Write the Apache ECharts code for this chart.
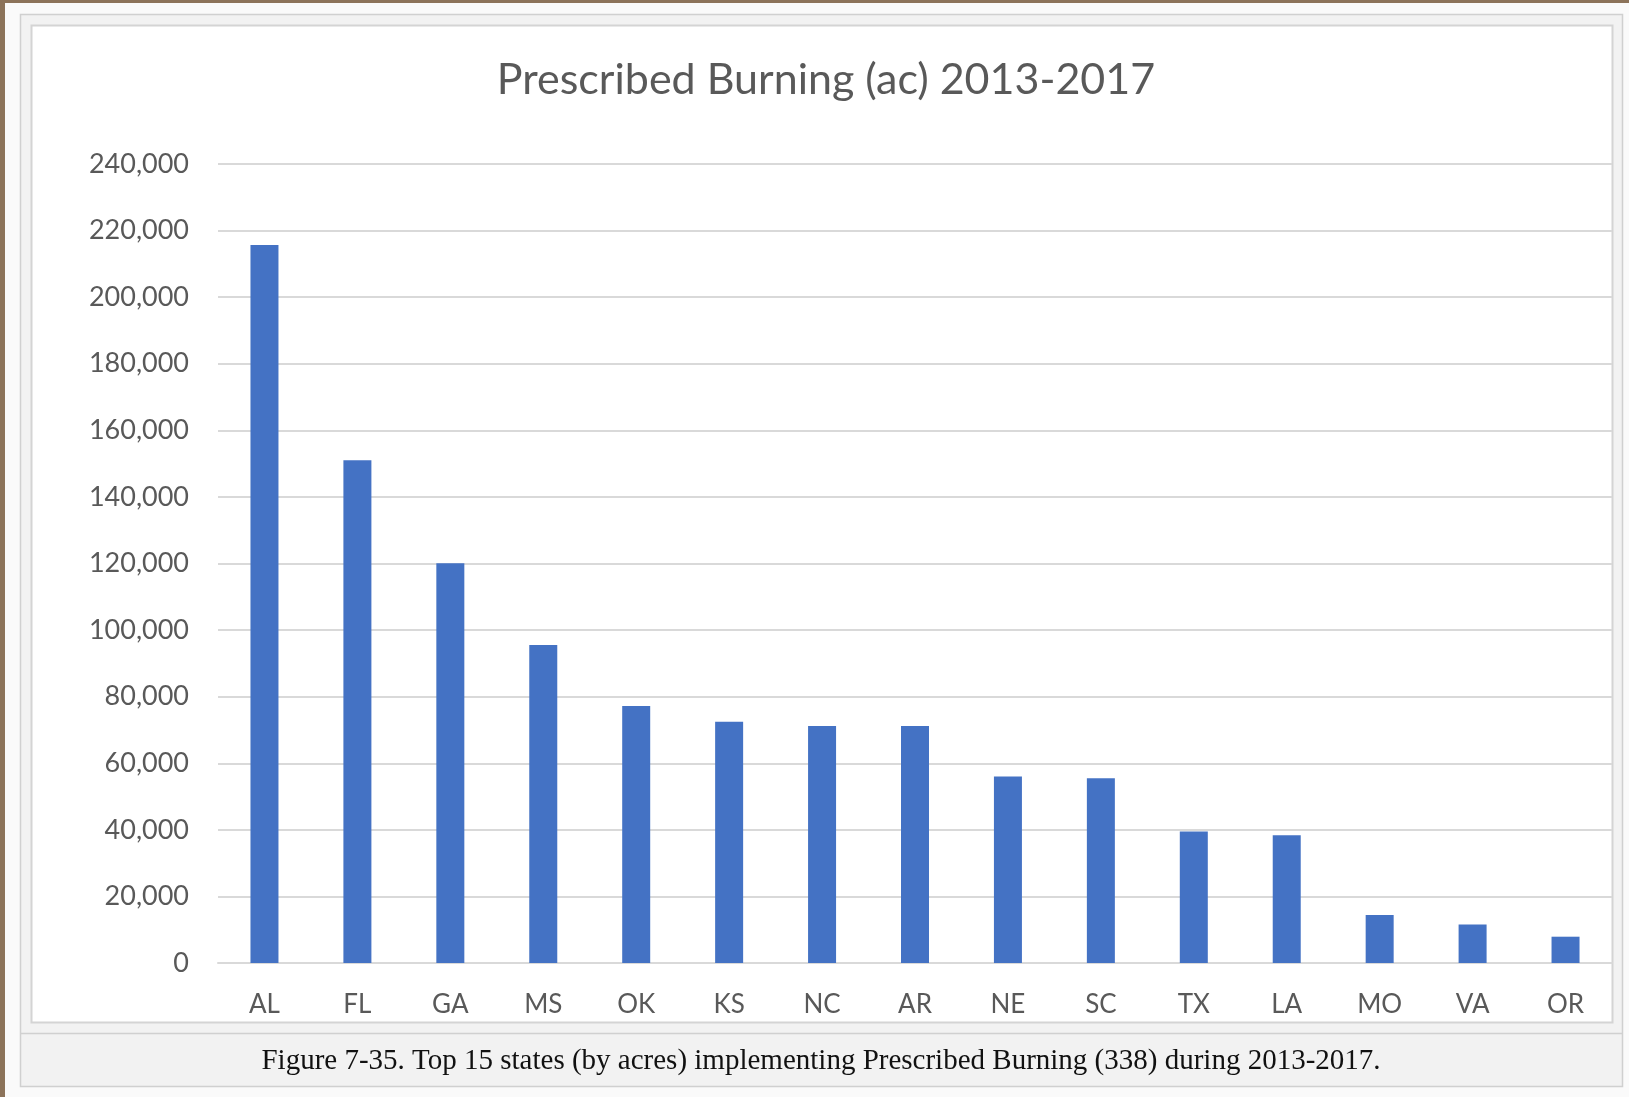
<!DOCTYPE html>
<html>
<head>
<meta charset="utf-8">
<title>Prescribed Burning (ac) 2013-2017</title>
<script src="https://cdn.jsdelivr.net/npm/echarts@6/dist/echarts.min.js"></script>
<style>
  html, body { margin: 0; padding: 0; background: #ffffff; }
  #chart { width: 1629px; height: 1097px; }
</style>
</head>
<body>
<div id="chart"></div>
<script>
// Top 15 states by prescribed-burning acres, 2013-2017
const states = ['AL', 'FL', 'GA', 'MS', 'OK', 'KS', 'NC', 'AR', 'NE', 'SC', 'TX', 'LA', 'MO', 'VA', 'OR'];
const acres = [215700, 151000, 120100, 95500, 77200, 72500, 71200, 71200, 56000, 55500, 39500, 38400, 14400, 11600, 7900];

// Value-axis range and step
const yMin = 0;
const yMax = 240000;
const yStep = 20000;

const titleText = 'Prescribed Burning (ac) 2013-2017';
const captionText = 'Figure 7-35. Top 15 states (by acres) implementing Prescribed Burning (338) during 2013-2017.';

const chart = echarts.init(document.getElementById('chart'), null, { renderer: 'canvas' });

const W = 1629, H = 1097;
const frameCenterX = 821;

chart.setOption({
  backgroundColor: '#8c735a',
  animation: false,
  title: {
    text: titleText,
    left: frameCenterX,
    textAlign: 'center',
    top: 54,
    textStyle: {
      fontFamily: 'Lato',
      fontWeight: 'normal',
      fontSize: 43,
      color: '#595959'
    }
  },
  graphic: [
    // page panel
    { type: 'rect', z: -100, silent: true,
      shape: { x: 5, y: 3, width: W - 5, height: H - 3 },
      style: { fill: '#fafafa' } },
    // figure frame
    { type: 'rect', z: -99, silent: true,
      shape: { x: 20.5, y: 14.5, width: 1602, height: 1072 },
      style: { fill: '#f2f2f2', stroke: '#d0d0d0', lineWidth: 1.5 } },
    // chart area
    { type: 'rect', z: -98, silent: true,
      shape: { x: 31.5, y: 25.5, width: 1581, height: 997 },
      style: { fill: '#ffffff', stroke: '#d4d4d4', lineWidth: 2 } },
    // caption separator
    { type: 'line', z: -97, silent: true,
      shape: { x1: 20.5, y1: 1033.5, x2: 1622.5, y2: 1033.5 },
      style: { stroke: '#d0d0d0', lineWidth: 1.5 } },
    // caption
    { type: 'text', z: -96, silent: true,
      x: frameCenterX, y: 1061,
      style: {
        text: captionText,
        fill: '#111111',
        font: '29px "Liberation Serif", serif',
        align: 'center',
        verticalAlign: 'middle'
      } }
  ],
  grid: {
    left: 218,
    right: 17,
    top: 164,
    bottom: 134,
    containLabel: false
  },
  xAxis: {
    type: 'category',
    data: states,
    boundaryGap: true,
    axisLine: { show: true, lineStyle: { color: '#d9d9d9', width: 2 } },
    axisTick: { show: false },
    axisLabel: {
      margin: 29,
      fontFamily: 'Lato',
      fontSize: 26,
      color: '#595959'
    },
    splitLine: { show: false }
  },
  yAxis: {
    type: 'value',
    min: yMin,
    max: yMax,
    interval: yStep,
    axisLine: { show: false },
    axisTick: { show: false },
    axisLabel: {
      margin: 29,
      fontFamily: 'Lato',
      fontSize: 27,
      color: '#595959',
      formatter: v => v.toLocaleString('en-US')
    },
    splitLine: { show: true, lineStyle: { color: '#d9d9d9', width: 2 } }
  },
  series: [{
    type: 'bar',
    data: acres,
    barWidth: 28,
    itemStyle: { color: '#4472c4' }
  }]
});
</script>
</body>
</html>
